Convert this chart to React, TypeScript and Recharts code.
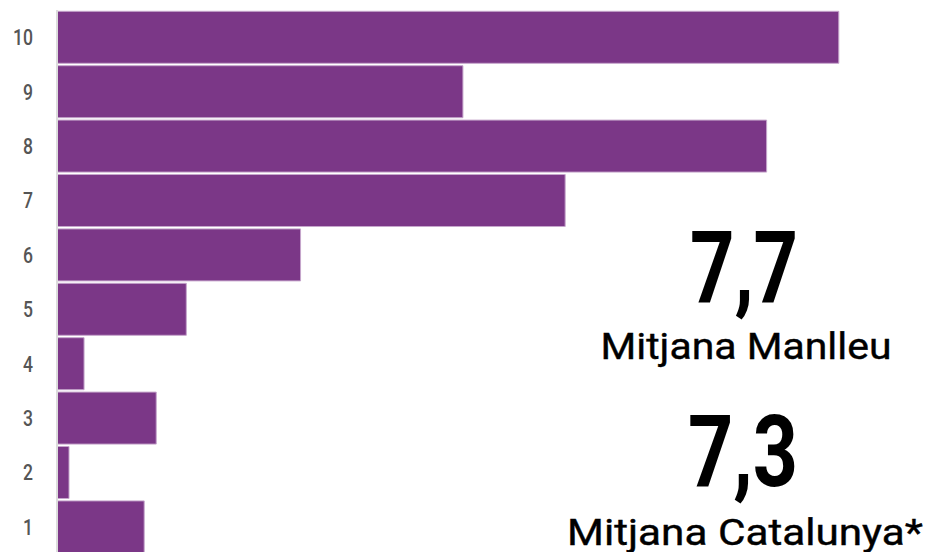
// score distribution, horizontal bars + averages

import { BarChart, Bar, XAxis, YAxis } from "recharts";

const scores = ["10", "9", "8", "7", "6", "5", "4", "3", "2", "1"];
const shares = [26.0, 13.5, 23.6, 16.9, 8.1, 4.3, 0.9, 3.3, 0.4, 2.9]; // % of answers
const averageLocal = "7,7";
const averageLocalLabel = "Mitjana Manlleu";
const averageRegion = "7,3";
const averageRegionLabel = "Mitjana Catalunya*";

const data = scores.map((score, i) => ({ score, share: shares[i] }));

const PURPLE = "#7b3787";

function ScoreTick(props: any) {
  const { x, y, payload } = props;
  return (
    <text
      x={x}
      y={y}
      dy={8}
      textAnchor="end"
      fill="#555"
      fontFamily="Roboto, sans-serif"
      fontWeight={500}
      fontSize={22}
      textLength={payload.value.length > 1 ? 20 : 10}
      lengthAdjust="spacingAndGlyphs"
    >
      {payload.value}
    </text>
  );
}

export default function App() {
  return (
    <div
      style={{
        position: "fixed",
        left: 0,
        top: 0,
        width: 926,
        height: 552,
        overflow: "hidden",
        background: "#fff",
      }}
    >
      <BarChart
        width={926}
        height={554}
        data={data}
        layout="vertical"
        margin={{ top: 10, right: 0, bottom: 0, left: 0 }}
        barCategoryGap={1.3}
      >
        <XAxis type="number" hide domain={[0, 28.9]} />
        <YAxis
          type="category"
          dataKey="score"
          width={57}
          tickLine={false}
          tickSize={0}
          tickMargin={24}
          axisLine={{ stroke: "#dcdcdc", strokeWidth: 2 }}
          tick={<ScoreTick />}
          interval={0}
        />
        <Bar
          dataKey="share"
          fill={PURPLE}
          stroke="#c6a6cc"
          strokeWidth={1}
          isAnimationActive={false}
        />
      </BarChart>

      {/* the two averages, written over the empty right side */}
      <svg
        width={926}
        height={552}
        style={{ position: "absolute", left: 0, top: 0, pointerEvents: "none" }}
      >
        <g fontFamily="Roboto, sans-serif" fill="#000" textAnchor="middle">
          <text x={744} y={302} fontSize={100} fontWeight={700} textLength={108} lengthAdjust="spacingAndGlyphs">
            {averageLocal}
          </text>
          <text x={746} y={359} fontSize={37} fontWeight={400} stroke="#000" strokeWidth={0.4} textLength={291} lengthAdjust="spacingAndGlyphs">
            {averageLocalLabel}
          </text>
          <text x={743} y={486} fontSize={100} fontWeight={700} textLength={110} lengthAdjust="spacingAndGlyphs">
            {averageRegion}
          </text>
          <text x={745} y={545} fontSize={37} fontWeight={400} stroke="#000" strokeWidth={0.4} textLength={356} lengthAdjust="spacingAndGlyphs">
            {averageRegionLabel}
          </text>
        </g>
      </svg>
    </div>
  );
}
